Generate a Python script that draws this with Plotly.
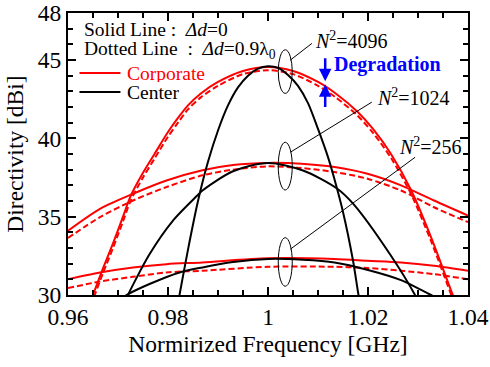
import plotly.graph_objects as go

# ---------------- data ----------------
f_c4096 = [0.964, 0.965, 0.967, 0.969, 0.971, 0.9725, 0.975, 0.9773, 0.980, 0.982, 0.984, 0.9865,
           0.990, 0.995, 1.000, 1.005, 1.010, 1.0136, 1.0179, 1.021, 1.0246, 1.0286, 1.0326, 1.0369, 1.038]
c4096_solid = [29.1, 30.0, 31.7, 33.3, 35.0, 36.3, 37.8, 39.0, 40.4, 41.3, 42.1, 42.85,
               43.6, 44.3, 44.55, 44.3, 43.6, 42.85, 41.7, 40.6, 39.0, 36.7, 33.7, 30.05, 29.2]
c4096_dash = [28.8, 29.7, 31.4, 33.0, 34.7, 36.0, 37.5, 38.7, 40.1, 41.0, 41.85, 42.6,
              43.35, 44.1, 44.35, 44.1, 43.35, 42.6, 41.45, 40.35, 38.75, 36.45, 33.45, 29.8, 28.95]

f_e4096 = [0.9815, 0.9823, 0.984, 0.986, 0.988, 0.990, 0.992, 0.994, 0.996, 0.998, 1.000,
           1.002, 1.004, 1.006, 1.008, 1.010, 1.012, 1.0132, 1.015, 1.017, 1.0181, 1.019]
e4096 = [28.6, 30.0, 32.9, 36.0, 38.5, 40.5, 42.1, 43.25, 44.0, 44.45, 44.6,
         44.5, 44.05, 43.35, 42.25, 40.6, 38.8, 37.5, 35.3, 32.2, 30.0, 28.5]

f_c1024 = [0.96, 0.9664, 0.973, 0.9797, 0.9869, 0.993, 1.0, 1.0067, 1.0133, 1.0199, 1.0266, 1.0332, 1.04]
c1024_solid = [34.1, 35.5, 36.46, 37.31, 37.96, 38.3, 38.43, 38.38, 38.17, 37.74, 37.0, 36.03, 35.07]
c1024_dash = [33.64, 34.97, 36.03, 36.89, 37.64, 38.0, 38.21, 38.1, 37.85, 37.42, 36.67, 35.6, 34.65]

f_e1024 = [0.9715, 0.972, 0.9763, 0.981, 0.9858, 0.9869, 0.993, 1.0, 1.007, 1.0138, 1.0171, 1.0244, 1.0294, 1.030]
e1024 = [29.6, 30.0, 32.6, 34.75, 36.33, 36.67, 37.9, 38.43, 37.95, 36.8, 35.8, 32.6, 30.0, 29.6]

f_c256 = [0.96, 0.9664, 0.973, 0.9797, 0.9869, 1.0, 1.0133, 1.0199, 1.0266, 1.0332, 1.04]
c256_solid = [31.01, 31.44, 31.76, 31.97, 32.08, 32.34, 32.3, 32.19, 32.08, 31.87, 31.55]
c256_dash = [30.44, 30.86, 31.16, 31.44, 31.55, 31.8, 31.8, 31.72, 31.55, 31.33, 31.0]

f_e256 = [0.9712, 0.9717, 0.9763, 0.9823, 0.9869, 0.993, 1.0, 1.007, 1.0133, 1.02, 1.0266, 1.0326, 1.0335]
e256 = [29.9, 30.0, 30.7, 31.44, 31.76, 32.1, 32.3, 32.25, 32.08, 31.6, 30.95, 30.0, 29.85]

x_ticks = [0.96, 0.98, 1.0, 1.02, 1.04]
x_ticktext = ["0.96", "0.98", "1", "1.02", "1.04"]
y_ticks = [30, 35, 40, 45, 48]

FONT = "Liberation Serif"
RED = "#ff0000"
BLACK = "#000000"
BLUE = "#0000ff"

fig = go.Figure()

def add(x, y, color, dash=None, name=""):
    fig.add_trace(go.Scatter(
        x=x, y=y, mode="lines", name=name, showlegend=False,
        line=dict(color=color, width=2, dash=dash, shape="spline", smoothing=0.8),
        hoverinfo="skip"))

for fx, ys, yd in [(f_c4096, c4096_solid, c4096_dash),
                   (f_c1024, c1024_solid, c1024_dash),
                   (f_c256, c256_solid, c256_dash)]:
    add(fx, ys, RED, None, "Corporate")
    add(fx, yd, RED, "6px,3px", "Corporate")
for fx, ys in [(f_e4096, e4096), (f_e1024, e1024), (f_e256, e256)]:
    add(fx, ys, BLACK, None, "Center")

shapes = []
annotations = []

# ellipses marking the N^2 groups
for y0, y1 in [(42.87, 45.65), (36.70, 39.75), (30.56, 33.66)]:
    shapes.append(dict(type="circle", xref="x", yref="y", x0=1.00205, x1=1.00485,
                       y0=y0, y1=y1, line=dict(color=BLACK, width=1)))
# leader lines
for (xa, ya, xb, yb) in [(1.00445, 44.99, 1.00878, 46.06),
                         (1.00445, 39.11, 1.02077, 42.31),
                         (1.00445, 32.92, 1.02942, 38.79)]:
    shapes.append(dict(type="line", xref="x", yref="y", x0=xa, y0=ya, x1=xb, y1=yb,
                       line=dict(color=BLACK, width=1)))

for txt, xx, yy in [("4096", 1.00904, 46.27), ("1024", 1.02143, 42.62), ("256", 1.02582, 39.54)]:
    annotations.append(dict(x=xx, y=yy, xref="x", yref="y", xanchor="left", yanchor="middle",
                            showarrow=False, text="<i>N</i><sup>2</sup>=" + txt,
                            font=dict(family=FONT, size=20, color=BLACK)))

# legend-like key (drawn as shapes + text)
shapes.append(dict(type="line", xref="paper", yref="paper", x0=0.0287, x1=0.1311, y0=0.7872, y1=0.7872,
                   line=dict(color=RED, width=2)))
shapes.append(dict(type="line", xref="paper", yref="paper", x0=0.0287, x1=0.1311, y0=0.7199, y1=0.7199,
                   line=dict(color=BLACK, width=2)))
annotations.append(dict(x=0.1436, y=0.787, xref="paper", yref="paper", xanchor="left", yanchor="middle",
                        height=18, valign="middle",
                        showarrow=False, text="Corporate", font=dict(family=FONT, size=19.5, color=RED)))
annotations.append(dict(x=0.1436, y=0.720, xref="paper", yref="paper", xanchor="left", yanchor="middle",
                        height=18, valign="middle",
                        showarrow=False, text="Center", font=dict(family=FONT, size=19.5, color=BLACK)))
annotations.append(dict(x=0.0362, y=0.9415, xref="paper", yref="paper", xanchor="left", yanchor="middle",
                        showarrow=False, text="Solid Line&nbsp;:&nbsp;&nbsp;<i>Δd</i>=0",
                        font=dict(family=FONT, size=19.5, color=BLACK)))
annotations.append(dict(x=0.0362, y=0.868, xref="paper", yref="paper", xanchor="left", yanchor="middle",
                        showarrow=False, text="Dotted Line&nbsp;&nbsp;:&nbsp;&nbsp;<i>Δd</i>=0.9λ<sub>0</sub>",
                        font=dict(family=FONT, size=19.5, color=BLACK)))

# degradation arrows
annotations.append(dict(x=1.01144, y=43.65, ax=1.01144, ay=45.2, xref="x", yref="y", axref="x", ayref="y",
                        showarrow=True, arrowhead=2, arrowsize=1, arrowwidth=2.5, arrowcolor=BLUE, text=""))
annotations.append(dict(x=1.01144, y=43.45, ax=1.01144, ay=41.9, xref="x", yref="y", axref="x", ayref="y",
                        showarrow=True, arrowhead=2, arrowsize=1, arrowwidth=2.5, arrowcolor=BLUE, text=""))
annotations.append(dict(x=1.01284, y=44.73, xref="x", yref="y", xanchor="left", yanchor="middle",
                        showarrow=False, text="<b>Degradation</b>",
                        font=dict(family=FONT, size=20, color=BLUE)))

fig.update_layout(
    width=490, height=367,
    margin=dict(l=67.5, r=22, t=13, b=72),
    paper_bgcolor="white", plot_bgcolor="white",
    font=dict(family=FONT, color=BLACK),
    shapes=shapes, annotations=annotations,
    showlegend=False,
)
fig.update_xaxes(
    range=[0.96, 1.04], tickvals=x_ticks, ticktext=x_ticktext, automargin=False,
    ticks="inside", ticklen=8, tickwidth=1.5, tickcolor=BLACK,
    minor=dict(tickmode="linear", tick0=0.96, dtick=0.005, ticks="inside", ticklen=5, tickwidth=1.5, tickcolor=BLACK),
    showline=True, linewidth=2, linecolor=BLACK, mirror="ticks",
    showgrid=False, zeroline=False,
    tickfont=dict(family=FONT, size=23.5, color=BLACK),
    title=dict(text="Normirized Frequency [GHz]", font=dict(family=FONT, size=23.5, color=BLACK), standoff=6),
)
fig.update_yaxes(
    range=[30, 48], tickvals=y_ticks, automargin=False,
    ticks="inside", ticklen=8, tickwidth=1.5, tickcolor=BLACK,
    minor=dict(tickmode="linear", tick0=30, dtick=1, ticks="inside", ticklen=5, tickwidth=1.5, tickcolor=BLACK),
    showline=True, linewidth=2, linecolor=BLACK, mirror="ticks",
    showgrid=False, zeroline=False,
    tickfont=dict(family=FONT, size=23.5, color=BLACK),
    title=dict(text="Directivity [dBi]", font=dict(family=FONT, size=23.5, color=BLACK), standoff=8),
)

fig.write_html("out.html")
